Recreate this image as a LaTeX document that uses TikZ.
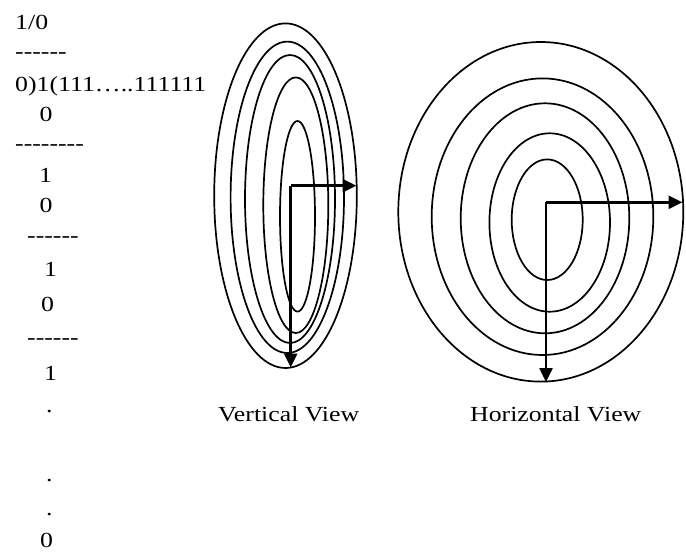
\documentclass[tikz,border=0pt]{standalone}
\usepackage{fontspec}
\setmainfont[FakeStretch=1.2,Ligatures=TeXOff]{Liberation Serif}
\usetikzlibrary{arrows.meta}
\begin{document}
\begin{tikzpicture}[x=1pt,y=-1pt,
  txt/.style={anchor=base west,inner sep=0pt,font=\fontsize{21.5}{24}\selectfont},
  ring/.style={line width=1.7pt},
  axis/.style={line width=2.5pt,-{Triangle[length=14pt,width=13pt]}}]
\useasboundingbox (0,0) rectangle (686,552);
% left column
\node[txt] (t1) at (15,29.3) {1/0};
\node[txt] (t2) at (15,58) {------};
\node[txt] (t3) at (15,91) {0)1(111…..111111};
\node[txt] (t4) at (39.5,121.7) {0};
\node[txt] (t5) at (15,150.7) {--------};
\node[txt] (t6) at (39,182.7) {1};
\node[txt] (t7) at (39.5,212.3) {0};
\node[txt] (t8) at (27,242) {------};
\node[txt] (t9) at (44,276.7) {1};
\node[txt] (t10) at (41,311) {0};
\node[txt] (t11) at (27,344) {------};
\node[txt] (t12) at (44,380) {1};
\node[txt] (t13) at (46,412.7) {.};
\node[txt] (t14) at (46,481.7) {.};
\node[txt] (t15) at (46,515.7) {.};
\node[txt] (t16) at (40,547.8) {0};
% vertical view
\draw[ring] (285.5,195.7) ellipse [x radius=71.3,y radius=172.3];
\draw[ring] (287.3,197.3) ellipse [x radius=56.7,y radius=155.7];
\draw[ring] (290,199) ellipse [x radius=45,y radius=144];
\draw[ring] (295.8,205.2) ellipse [x radius=32.5,y radius=127.8];
\draw[ring] (297.5,216.3) ellipse [x radius=17.5,y radius=95.3];
\coordinate (vo) at (290.7,185.7);
\coordinate (vr) at (356.5,185.7);
\coordinate (vd) at (290.7,367.5);
\draw[axis] (vo) -- (vr);
\draw[axis] (vo) -- (vd);
\node[txt] (vl) at (218,421.7) {Vertical View};
% horizontal view
\draw[ring] (540.8,211.8) ellipse [x radius=142.5,y radius=169.8];
\draw[ring] (542.5,216.7) ellipse [x radius=110.8,y radius=138.3];
\draw[ring] (545,218.3) ellipse [x radius=84.3,y radius=115];
\draw[ring] (549.7,222.5) ellipse [x radius=60.3,y radius=89.2];
\draw[ring] (547.2,219.7) ellipse [x radius=35.5,y radius=60.3];
\coordinate (ho) at (546,202.3);
\coordinate (hr) at (682.5,202.3);
\coordinate (hd) at (546,382);
\draw[axis] (ho) -- (hr);
\draw[axis] (ho) -- (hd);
\node[txt] (hl) at (470,421.7) {Horizontal View};
\end{tikzpicture}
\end{document}
